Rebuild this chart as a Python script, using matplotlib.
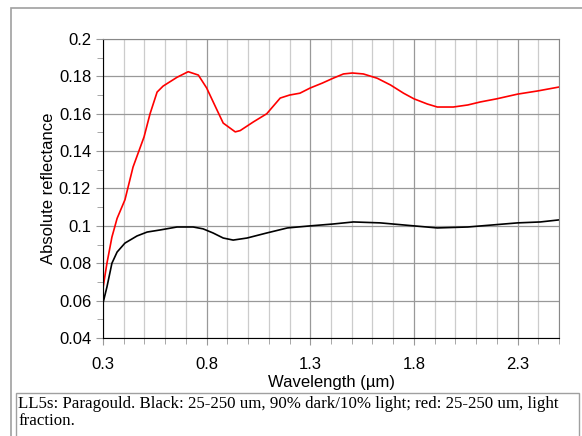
import matplotlib.pyplot as plt
from matplotlib.ticker import MultipleLocator
from matplotlib.patches import Rectangle

# red: 25-250 um, light fraction
red_wl = [0.3, 0.319, 0.343, 0.368, 0.406, 0.445, 0.498, 0.527, 0.561, 0.59,
          0.657, 0.711, 0.76, 0.8, 0.85, 0.88, 0.938, 0.962, 1.025, 1.09,
          1.155, 1.2, 1.25, 1.3, 1.358, 1.41, 1.46, 1.503, 1.556, 1.623,
          1.687, 1.75, 1.8, 1.865, 1.913, 1.99, 2.06, 2.12, 2.2, 2.3, 2.397, 2.5]
red_refl = [0.0668, 0.080, 0.094, 0.104, 0.114, 0.1315, 0.1476, 0.160, 0.1716, 0.1748,
            0.1795, 0.1825, 0.1807, 0.1738, 0.162, 0.155, 0.1503, 0.151, 0.1556, 0.160,
            0.1684, 0.170, 0.171, 0.1738, 0.1764, 0.179, 0.1813, 0.1818, 0.1813, 0.179,
            0.1754, 0.171, 0.168, 0.1652, 0.1636, 0.1636, 0.1647, 0.1663, 0.168, 0.1705, 0.1722, 0.1743]

# black: 25-250 um, 90% dark/10% light
blk_wl = [0.3, 0.319, 0.343, 0.368, 0.406, 0.464, 0.513, 0.575, 0.657, 0.735,
          0.783, 0.831, 0.88, 0.928, 0.995, 1.09, 1.19, 1.3, 1.41, 1.508,
          1.638, 1.8, 1.913, 2.06, 2.18, 2.3, 2.41, 2.5]
blk_refl = [0.0587, 0.0673, 0.080, 0.086, 0.0908, 0.0946, 0.0967, 0.0978, 0.0994, 0.0994,
            0.0984, 0.0962, 0.0935, 0.0924, 0.0935, 0.0962, 0.0989, 0.100, 0.101, 0.1021,
            0.1016, 0.100, 0.0989, 0.0994, 0.1005, 0.1016, 0.1021, 0.1032]

x_ticks = [0.3, 0.8, 1.3, 1.8, 2.3]

caption = ("LL5s: Paragould. Black: 25-250 um, 90% dark/10% light; red: 25-250 um, light\n"
           "fraction.")

fig = plt.figure(figsize=(5.82, 4.36), dpi=100)

# outer frame and caption box
fig.patches.append(Rectangle((11/582, -0.01), 1.0, 1 - 8/436 + 0.01, transform=fig.transFigure,
                             fill=False, edgecolor='#a0a0a0', lw=1.2))
fig.patches.append(Rectangle((16/582, -0.01), 563/582, (436-393)/436 + 0.01, transform=fig.transFigure,
                             facecolor='white', edgecolor='#a0a0a0', lw=1.0))
fig.text(18/582, (436-396)/436, caption, ha='left', va='top', fontsize=12.2,
         family='Liberation Serif', linespacing=1.12)

ax = fig.add_axes([103/582, 98/436, 456/582, 299/436])
ax.plot(red_wl, red_refl, color='#ff0000', lw=1.2)
ax.plot(blk_wl, blk_refl, color='black', lw=1.2)

ax.set_xlim(0.3, 2.5)
ax.set_ylim(0.04, 0.2)
ax.set_xticks(x_ticks)
ax.xaxis.set_minor_locator(MultipleLocator(0.1))
ax.yaxis.set_major_locator(MultipleLocator(0.02))
ax.yaxis.set_minor_locator(MultipleLocator(0.01))

ax.grid(which='major', axis='both', color='#999999', lw=0.9)
ax.grid(which='minor', axis='x', color='#cccccc', lw=0.9)
ax.set_axisbelow(True)

for s in ['top', 'right']:
    ax.spines[s].set_color('#888888')
for s in ['left', 'bottom']:
    ax.spines[s].set_color('black')

ax.tick_params(which='both', direction='out', labelsize=12, colors='black')
ax.tick_params(which='major', length=5, color='#999999')
ax.tick_params(which='minor', length=4, color='#999999')
ax.tick_params(axis='x', pad=9)
for lbl in ax.get_xticklabels() + ax.get_yticklabels():
    lbl.set_family('Liberation Sans')

fmt = lambda v, p: ('%.2f' % v).rstrip('0').rstrip('.') if v else '0'
ax.yaxis.set_major_formatter(plt.FuncFormatter(fmt))
ax.xaxis.set_major_formatter(plt.FuncFormatter(lambda v, p: '%.1f' % v))

ax.set_xlabel('Wavelength (µm)', fontsize=12, family='Liberation Sans', labelpad=2)
ax.set_ylabel('Absolute reflectance', fontsize=12, family='Liberation Sans', labelpad=2)

fig.savefig('out.png', dpi=100)
